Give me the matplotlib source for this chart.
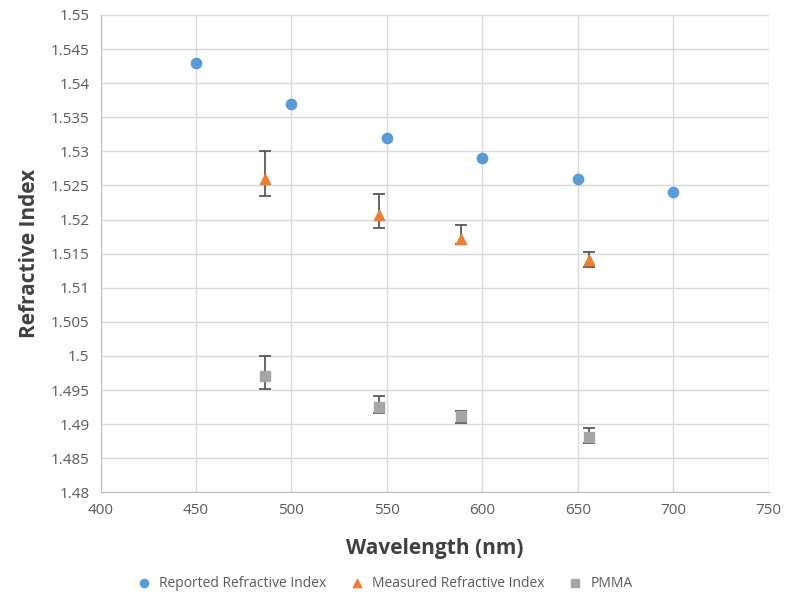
import matplotlib
matplotlib.use("Agg")
import matplotlib.pyplot as plt

plt.rcParams['font.family'] = ['Open Sans', 'DejaVu Sans']

# Reported refractive index
reported_wl = [450, 500, 550, 600, 650, 700]
reported_n = [1.543, 1.537, 1.532, 1.529, 1.526, 1.524]

# Measured refractive index (with asymmetric error bars)
measured_wl = [486, 546, 589, 656]
measured_n = [1.526, 1.5206, 1.5172, 1.514]
measured_lo = [1.5234, 1.5188, 1.5164, 1.5131]
measured_hi = [1.5300, 1.5237, 1.5192, 1.5152]

# PMMA
pmma_wl = [486, 546, 589, 656]
pmma_n = [1.497, 1.4925, 1.4912, 1.4881]
pmma_lo = [1.4952, 1.4917, 1.4902, 1.4873]
pmma_hi = [1.5000, 1.4941, 1.4920, 1.4895]

fig = plt.figure(figsize=(7.86, 5.99), dpi=100)
ax = fig.add_axes([0.128, 0.178, 0.85, 0.797])

ax.scatter(reported_wl, reported_n, s=55, color='#5B9BD5', marker='o',
           label='Reported Refractive Index', zorder=3)

m_err = [[n - lo for n, lo in zip(measured_n, measured_lo)],
         [hi - n for n, hi in zip(measured_n, measured_hi)]]
ax.errorbar(measured_wl, measured_n, yerr=m_err, fmt='none', ecolor='#595959',
            elinewidth=1.3, capsize=4, capthick=1.3, zorder=2)
ax.scatter(measured_wl, measured_n, s=55, color='#ED7D31', marker='^',
           label='Measured Refractive Index', zorder=3)

p_err = [[n - lo for n, lo in zip(pmma_n, pmma_lo)],
         [hi - n for n, hi in zip(pmma_n, pmma_hi)]]
ax.errorbar(pmma_wl, pmma_n, yerr=p_err, fmt='none', ecolor='#595959',
            elinewidth=1.3, capsize=4, capthick=1.3, zorder=2)
ax.scatter(pmma_wl, pmma_n, s=50, color='#A5A5A5', marker='s',
           label='PMMA', zorder=3)

ax.set_xlim(400, 750)
ax.set_ylim(1.48, 1.55)
ax.set_xticks(range(400, 751, 50))
ax.set_yticks([1.48 + 0.005 * i for i in range(15)])
ax.set_yticklabels(['1.48', '1.485', '1.49', '1.495', '1.5', '1.505', '1.51', '1.515',
                    '1.52', '1.525', '1.53', '1.535', '1.54', '1.545', '1.55'])

ax.grid(True, color='#D9D9D9', linewidth=1)
ax.set_axisbelow(True)
for s in ['top', 'right']:
    ax.spines[s].set_visible(False)
for s in ['left', 'bottom']:
    ax.spines[s].set_color('#BFBFBF')
ax.tick_params(length=0, colors='#595959', labelsize=11, pad=8)

ax.set_xlabel('Wavelength (nm)', fontsize=15, fontweight='bold', color='#404040', labelpad=14)
ax.set_ylabel('Refractive Index', fontsize=15, fontweight='bold', color='#404040', labelpad=8)

ax.legend(loc='upper center', bbox_to_anchor=(0.42, -0.148), ncol=3, frameon=False,
          fontsize=10, labelcolor='#595959', handletextpad=0.1, columnspacing=1.2,
          markerscale=0.8)

fig.savefig('out.png', dpi=100)
